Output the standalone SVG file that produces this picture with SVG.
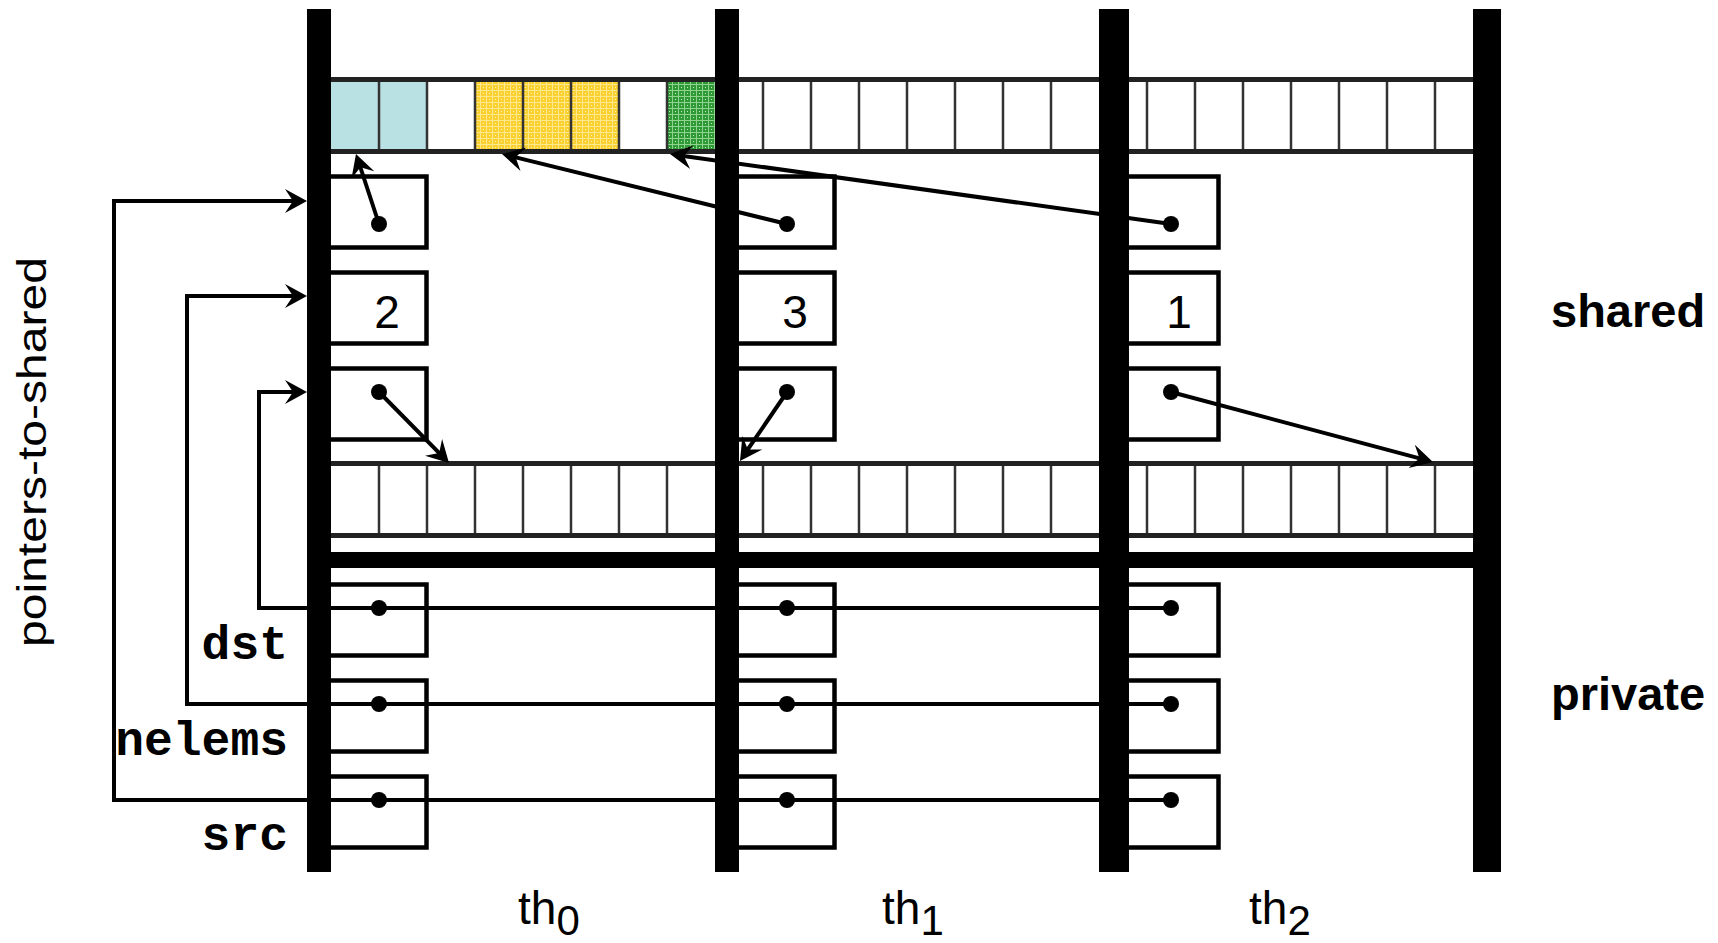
<svg xmlns="http://www.w3.org/2000/svg" width="1718" height="943" viewBox="0 0 1718 943">
  <style>
    .lane { fill: #000; }
    .arr { fill: none; stroke: #222; stroke-width: 5; }
    .div { stroke: #333; stroke-width: 2.5; }
    .box { fill: none; stroke: #000; stroke-width: 4.5; }
    .dot { fill: #000; }
    .num { font-family: "Liberation Sans", Arial, sans-serif; font-size: 46px; fill: #000; text-anchor: middle; }
    .var { font-family: "Liberation Mono", "Courier New", monospace; font-weight: bold; font-size: 48px; fill: #000; text-anchor: end; }
    .side { font-family: "Liberation Sans", Arial, sans-serif; font-weight: bold; font-size: 47px; fill: #000; }
    .th { font-family: "Liberation Sans", Arial, sans-serif; font-size: 46px; fill: #000; }
    .link { fill: none; stroke: #000; stroke-width: 4; stroke-linejoin: miter; marker-end: url(#head); }
  </style>
  <defs>
    <marker id="head" markerUnits="userSpaceOnUse" viewBox="-24 -13 38 26" refX="-10" refY="0" markerWidth="38" markerHeight="26" orient="auto">
      <path d="M0,0 L-22,-12 L-14,0 L-22,12 Z" fill="#000"/>
    </marker>
    <pattern id="yellowWeave" width="6" height="6" patternUnits="userSpaceOnUse">
      <rect width="6" height="6" fill="#fbd132"/>
      <rect x="0" y="0" width="6" height="1" fill="#fde88c"/>
      <rect x="0" y="0" width="1" height="6" fill="#fde88c"/>
      <rect x="3" y="3" width="1" height="1" fill="#fff3c0"/>
    </pattern>
    <pattern id="greenWeave" width="6" height="6" patternUnits="userSpaceOnUse">
      <rect width="6" height="6" fill="#2f9a35"/>
      <rect x="0" y="0" width="6" height="1" fill="#8fd391"/>
      <rect x="0" y="0" width="1" height="6" fill="#8fd391"/>
      <rect x="3" y="3" width="1" height="1" fill="#c8ecc8"/>
    </pattern>
  </defs>

  <!-- shared array (top) -->
  <g id="shared-array">
    <rect x="331" y="82" width="96" height="67" fill="#b9e0e3"/>
    <rect x="475" y="82" width="144" height="67" fill="url(#yellowWeave)"/>
    <rect x="667" y="82" width="48" height="67" fill="url(#greenWeave)"/>
    <g class="div">
      <line x1="379" y1="82" x2="379" y2="149"/><line x1="427" y1="82" x2="427" y2="149"/>
      <line x1="475" y1="82" x2="475" y2="149"/><line x1="523" y1="82" x2="523" y2="149"/>
      <line x1="571" y1="82" x2="571" y2="149"/><line x1="619" y1="82" x2="619" y2="149"/>
      <line x1="667" y1="82" x2="667" y2="149"/><line x1="763" y1="82" x2="763" y2="149"/>
      <line x1="811" y1="82" x2="811" y2="149"/><line x1="859" y1="82" x2="859" y2="149"/>
      <line x1="907" y1="82" x2="907" y2="149"/><line x1="955" y1="82" x2="955" y2="149"/>
      <line x1="1003" y1="82" x2="1003" y2="149"/><line x1="1051" y1="82" x2="1051" y2="149"/>
      <line x1="1147" y1="82" x2="1147" y2="149"/><line x1="1195" y1="82" x2="1195" y2="149"/>
      <line x1="1243" y1="82" x2="1243" y2="149"/><line x1="1291" y1="82" x2="1291" y2="149"/>
      <line x1="1339" y1="82" x2="1339" y2="149"/><line x1="1387" y1="82" x2="1387" y2="149"/>
      <line x1="1435" y1="82" x2="1435" y2="149"/>
    </g>
    <rect class="arr" x="320" y="79.5" width="1165" height="72"/>
  </g>

  <!-- shared array (destination) -->
  <g id="dst-array">
    <g class="div">
      <line x1="379" y1="466" x2="379" y2="534"/><line x1="427" y1="466" x2="427" y2="534"/>
      <line x1="475" y1="466" x2="475" y2="534"/><line x1="523" y1="466" x2="523" y2="534"/>
      <line x1="571" y1="466" x2="571" y2="534"/><line x1="619" y1="466" x2="619" y2="534"/>
      <line x1="667" y1="466" x2="667" y2="534"/><line x1="763" y1="466" x2="763" y2="534"/>
      <line x1="811" y1="466" x2="811" y2="534"/><line x1="859" y1="466" x2="859" y2="534"/>
      <line x1="907" y1="466" x2="907" y2="534"/><line x1="955" y1="466" x2="955" y2="534"/>
      <line x1="1003" y1="466" x2="1003" y2="534"/><line x1="1051" y1="466" x2="1051" y2="534"/>
      <line x1="1147" y1="466" x2="1147" y2="534"/><line x1="1195" y1="466" x2="1195" y2="534"/>
      <line x1="1243" y1="466" x2="1243" y2="534"/><line x1="1291" y1="466" x2="1291" y2="534"/>
      <line x1="1339" y1="466" x2="1339" y2="534"/><line x1="1387" y1="466" x2="1387" y2="534"/>
      <line x1="1435" y1="466" x2="1435" y2="534"/>
    </g>
    <rect class="arr" x="320" y="463.5" width="1165" height="72"/>
  </g>

  <!-- shared / private boundary -->
  <rect id="boundary" x="320" y="552" width="1165" height="16" fill="#000"/>

  <!-- shared pointer cells -->
  <g id="th0-shared">
    <rect class="box" x="320" y="176.5" width="106.5" height="71"/>
    <rect class="box" x="320" y="272.5" width="106.5" height="71"/>
    <rect class="box" x="320" y="368.5" width="106.5" height="71"/>
    <text class="num" x="387" y="328">2</text>
  </g>
  <g id="th1-shared">
    <rect class="box" x="728" y="176.5" width="106.5" height="71"/>
    <rect class="box" x="728" y="272.5" width="106.5" height="71"/>
    <rect class="box" x="728" y="368.5" width="106.5" height="71"/>
    <text class="num" x="795" y="328">3</text>
  </g>
  <g id="th2-shared">
    <rect class="box" x="1112" y="176.5" width="106.5" height="71"/>
    <rect class="box" x="1112" y="272.5" width="106.5" height="71"/>
    <rect class="box" x="1112" y="368.5" width="106.5" height="71"/>
    <text class="num" x="1179" y="328">1</text>
  </g>

  <!-- private cells -->
  <g id="th0-private">
    <rect class="box" x="320" y="584.5" width="106.5" height="71"/>
    <rect class="box" x="320" y="680.5" width="106.5" height="71"/>
    <rect class="box" x="320" y="776.5" width="106.5" height="71"/>
  </g>
  <g id="th1-private">
    <rect class="box" x="728" y="584.5" width="106.5" height="71"/>
    <rect class="box" x="728" y="680.5" width="106.5" height="71"/>
    <rect class="box" x="728" y="776.5" width="106.5" height="71"/>
  </g>
  <g id="th2-private">
    <rect class="box" x="1112" y="584.5" width="106.5" height="71"/>
    <rect class="box" x="1112" y="680.5" width="106.5" height="71"/>
    <rect class="box" x="1112" y="776.5" width="106.5" height="71"/>
  </g>

  <!-- thread lanes -->
  <g id="lanes">
    <rect class="lane" x="307" y="9" width="24" height="863"/>
    <rect class="lane" x="715" y="9" width="24" height="863"/>
    <rect class="lane" x="1099" y="9" width="30" height="863"/>
    <rect class="lane" x="1473" y="9" width="28" height="863"/>
  </g>

  <!-- connectors -->
  <g id="connectors">
    <path class="link" d="M379,224 L359.1,163.5"/>
    <path class="link" d="M787,224 L511.7,156.4"/>
    <path class="link" d="M1171,224 L679.9,155.4"/>
    <path class="link" d="M379,392 L442,455.9"/>
    <path class="link" d="M787,392 L745.6,452.7"/>
    <path class="link" d="M1171,392 L1423.3,459.4"/>
    <path class="link" d="M1171,608 H259 V392 H297"/>
    <path class="link" d="M1171,704 H187 V296 H297"/>
    <path class="link" d="M1171,800 H114 V201 H297"/>
    <g class="dot">
      <circle cx="379" cy="224" r="8"/><circle cx="787" cy="224" r="8"/><circle cx="1171" cy="224" r="8"/>
      <circle cx="379" cy="392" r="8"/><circle cx="787" cy="392" r="8"/><circle cx="1171" cy="392" r="8"/>
      <circle cx="379" cy="608" r="8"/><circle cx="787" cy="608" r="8"/><circle cx="1171" cy="608" r="8"/>
      <circle cx="379" cy="704" r="8"/><circle cx="787" cy="704" r="8"/><circle cx="1171" cy="704" r="8"/>
      <circle cx="379" cy="800" r="8"/><circle cx="787" cy="800" r="8"/><circle cx="1171" cy="800" r="8"/>
    </g>
  </g>

  <!-- labels -->
  <g id="labels">
    <text class="var" x="288" y="659">dst</text>
    <text class="var" x="288" y="755">nelems</text>
    <text class="var" x="288" y="850">src</text>
    <text class="side" x="1551" y="327">shared</text>
    <text class="side" x="1551" y="710">private</text>
    <text transform="translate(46,452) rotate(-90)" font-family="'Liberation Sans', Arial, sans-serif" font-size="40" text-anchor="middle" textLength="390" lengthAdjust="spacingAndGlyphs">pointers-to-shared</text>
    <text class="th" x="518" y="924">th<tspan font-size="42" dy="11">0</tspan></text>
    <text class="th" x="882" y="924">th<tspan font-size="42" dy="11">1</tspan></text>
    <text class="th" x="1249" y="924">th<tspan font-size="42" dy="11">2</tspan></text>
  </g>
</svg>
